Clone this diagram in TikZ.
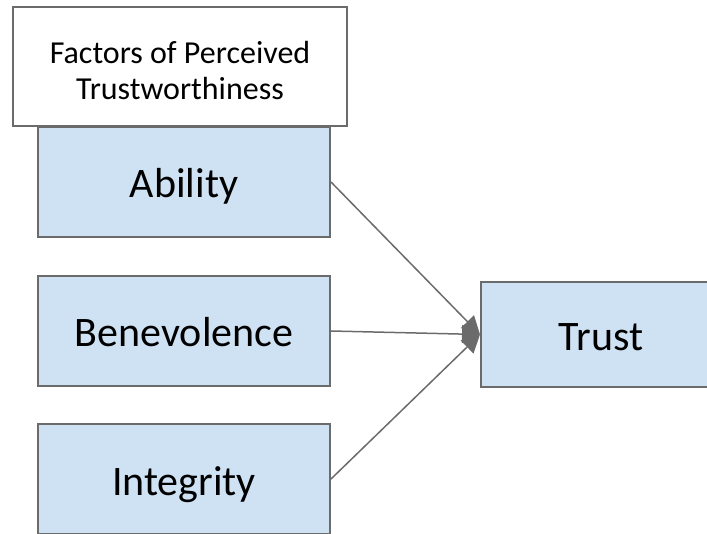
\documentclass[tikz,border=0pt]{standalone}
\usepackage{fontspec}
\setmainfont{Carlito}
\usetikzlibrary{arrows.meta}

\definecolor{boxblue}{HTML}{CFE2F3}
\definecolor{edgegray}{HTML}{6B6B6B}

\begin{document}
\begin{tikzpicture}[x=0.5pt, y=-0.5pt,
    factor/.style={draw=edgegray, line width=1pt, fill=boxblue, inner sep=0pt,
        minimum width=146pt, minimum height=55pt, text height=18pt, text depth=2pt,
        font=\fontsize{21}{25}\selectfont},
    header/.style={draw=edgegray, line width=1pt, fill=white, inner sep=0pt,
        minimum width=167pt, minimum height=59.5pt, align=center,
        text height=33pt, text depth=0pt,
        font=\fontsize{16}{18}\selectfont},
    link/.style={draw=edgegray, line width=0.75pt,
        -{Triangle[length=9pt, width=9pt, fill=edgegray]}}]
    \clip (0, 0) rectangle (707, 534);

    \node[factor] (ability) at (184, 182) {Ability};
    \node[factor] (benevolence) at (184, 331) {Benevolence};
    \node[factor] (integrity) at (184, 479) {Integrity};
    \node[factor, minimum width=120pt, minimum height=52.5pt] (trust) at (601, 334.5) {Trust};

    \node[header] (factors) at (180, 66.5) {Factors of Perceived\\Trustworthiness};

    \draw[link] (ability.east) -- (trust.west);
    \draw[link] (benevolence.east) -- (trust.west);
    \draw[link] (integrity.east) -- (trust.west);

\end{tikzpicture}
\end{document}
